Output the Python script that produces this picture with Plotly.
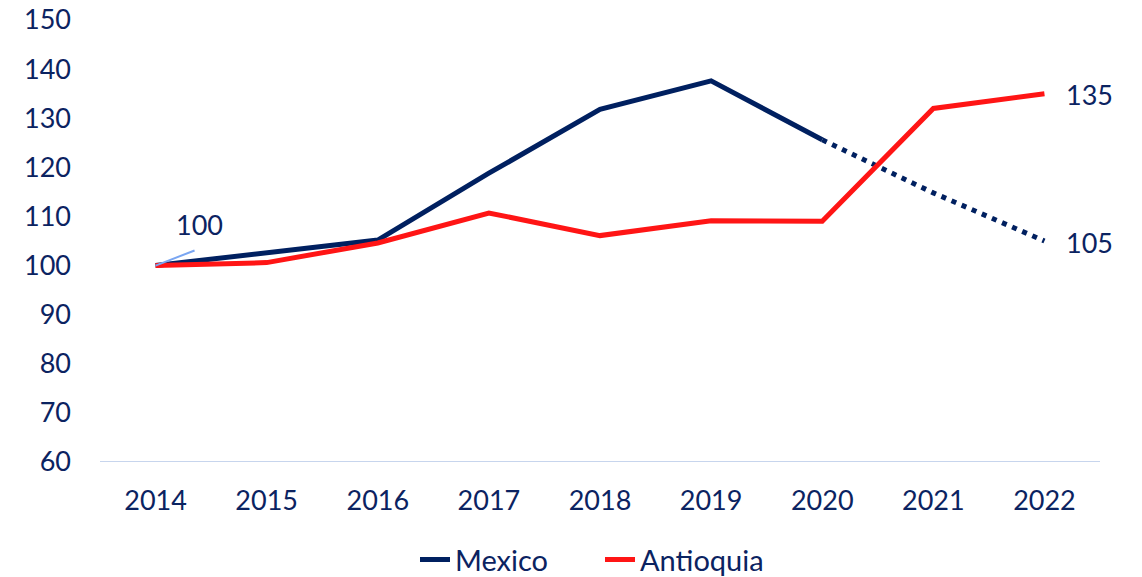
import plotly.graph_objects as go

# Index series (2014 = 100)
years = ["2014", "2015", "2016", "2017", "2018", "2019", "2020", "2021", "2022"]
mexico = [100, 102.7, 105.2, 118.8, 131.8, 137.6, 125.6, 114.8, 105]
antioquia = [100, 100.6, 104.6, 110.7, 106.1, 109.1, 109.0, 132.0, 135]
y_ticks = [60, 70, 80, 90, 100, 110, 120, 130, 140, 150]

NAVY = "#002060"
RED = "#ff1515"
TEXT = "#0b2361"
FONT = "Lato"
split = years.index("2020")
last = len(years) - 1

fig = go.Figure()

# Mexico: observed part solid, remaining years dotted
fig.add_trace(go.Scatter(
    x=years[:split + 1], y=mexico[:split + 1], mode="lines", name="Mexico",
    line=dict(color=NAVY, width=5), legendrank=1,
))
fig.add_trace(go.Scatter(
    x=years[split:], y=mexico[split:], mode="lines", showlegend=False,
    line=dict(color=NAVY, width=5, dash="5px,6px"), hoverinfo="skip",
))
fig.add_trace(go.Scatter(
    x=years, y=antioquia, mode="lines", name="Antioquia",
    line=dict(color=RED, width=5), legendrank=2,
))

# End-point value labels (category axis positions given by index)
fig.add_annotation(x=last, y=antioquia[-1], text=f"{antioquia[-1]:.0f}",
                   showarrow=False, xanchor="left", xshift=20, yshift=-1,
                   font=dict(family=FONT, size=27, color=TEXT))
fig.add_annotation(x=last, y=mexico[-1], text=f"{mexico[-1]:.0f}",
                   showarrow=False, xanchor="left", xshift=20, yshift=-1,
                   font=dict(family=FONT, size=27, color=TEXT))

# Start value label with a thin leader line
fig.add_annotation(x=0, y=mexico[0], text=" ", showarrow=True,
                   arrowhead=0, arrowwidth=2, arrowcolor="#7aa6f2",
                   ax=44, ay=-17, standoff=0)
fig.add_annotation(x=0, y=mexico[0], text=f"{mexico[0]:.0f}",
                   showarrow=False, xshift=44, yshift=41,
                   font=dict(family=FONT, size=27, color=TEXT))

fig.update_layout(
    width=1142, height=577,
    margin=dict(l=100, r=42, t=20, b=115, autoexpand=False),
    plot_bgcolor="white", paper_bgcolor="white",
    font=dict(family=FONT, size=27, color=TEXT),
    showlegend=True,
    legend=dict(orientation="h", xref="paper", x=0.5, xanchor="center",
                yref="container", y=0.03, yanchor="middle",
                font=dict(family=FONT, size=29, color=TEXT),
                entrywidth=140, tracegroupgap=0, traceorder="normal"),
    xaxis=dict(
        type="category", range=[-0.5, len(years) - 0.5],
        showgrid=False, zeroline=False, showline=False,
        ticks="", ticklabelstandoff=20,
        tickfont=dict(family=FONT, size=27, color=TEXT),
    ),
    yaxis=dict(
        range=[60, 150], tickvals=y_ticks, showgrid=False, zeroline=False,
        showline=False, ticks="", ticklabelstandoff=28,
        tickfont=dict(family=FONT, size=27, color=TEXT),
    ),
    shapes=[dict(type="line", xref="paper", yref="y", x0=0, x1=1, y0=60, y1=60,
                 line=dict(color="#b4c7e7", width=1.5), layer="below")],
)

fig.write_html("out.html")
